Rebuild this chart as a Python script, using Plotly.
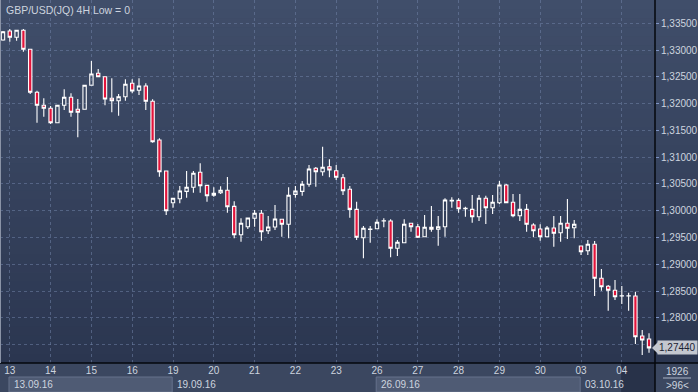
import plotly.graph_objects as go

# ---------------- data (GBP/USD 4H candles, 12.09.16 20:00 -> 04.10.16) ----------------
opens = [1.33188, 1.33356, 1.33239, 1.33369, 1.33015, 1.32212, 1.31969, 1.31913, 1.31644, 1.31969,
         1.32118, 1.31894, 1.31894, 1.32343, 1.32567, 1.32503, 1.32100, 1.32055, 1.32130, 1.32380,
         1.32249, 1.32329, 1.32044, 1.31321, 1.30742, 1.30151, 1.30225, 1.30363, 1.30438, 1.30718,
         1.30475, 1.30289, 1.30337, 1.30382, 1.30083, 1.29553, 1.29703, 1.29859, 1.29953, 1.29628,
         1.29697, 1.29841, 1.29747, 1.30307, 1.30363, 1.30494, 1.30793, 1.30729, 1.30823, 1.30748,
         1.30617, 1.30401, 1.30027, 1.29497, 1.29650, 1.29665, 1.29809, 1.29809, 1.29299, 1.29404,
         1.29766, 1.29703, 1.29516, 1.29691, 1.29654, 1.29703, 1.30182, 1.30195, 1.30039, 1.30027,
         1.29889, 1.30233, 1.30057, 1.30151, 1.30481, 1.30158, 1.29908, 1.30027, 1.29734, 1.29660,
         1.29516, 1.29678, 1.29591, 1.29766, 1.29684, 1.29342, 1.29254, 1.29374, 1.28739, 1.28590,
         1.28515, 1.28409, 1.28409, 1.28409, 1.27662, 1.27606]
highs = [1.33356, 1.33394, 1.33369, 1.33394, 1.33015, 1.32242, 1.32100, 1.31956, 1.31969, 1.32268,
         1.32193, 1.32087, 1.32343, 1.32796, 1.32647, 1.32503, 1.32473, 1.32180, 1.32455, 1.32455,
         1.32473, 1.32380, 1.32081, 1.31353, 1.30742, 1.30233, 1.30462, 1.30742, 1.30742, 1.30886,
         1.30475, 1.30438, 1.30457, 1.30630, 1.30177, 1.29859, 1.29865, 1.30014, 1.30014, 1.29902,
         1.30108, 1.29841, 1.30438, 1.30462, 1.30556, 1.30854, 1.30817, 1.31196, 1.30961, 1.30854,
         1.30686, 1.30462, 1.30169, 1.29716, 1.29716, 1.29841, 1.29859, 1.29841, 1.29454, 1.29841,
         1.29766, 1.29753, 1.29921, 1.30089, 1.29902, 1.30233, 1.30251, 1.30233, 1.30076, 1.30294,
         1.30294, 1.30281, 1.30294, 1.30556, 1.30500, 1.30313, 1.30313, 1.30126, 1.29766, 1.29747,
         1.29716, 1.29902, 1.29902, 1.30220, 1.29828, 1.29342, 1.29454, 1.29436, 1.28913, 1.28614,
         1.28707, 1.28595, 1.28470, 1.28489, 1.27774, 1.27712]
lows = [1.33175, 1.33156, 1.33175, 1.32970, 1.32180, 1.31644, 1.31756, 1.31620, 1.31644, 1.31881,
        1.31756, 1.31372, 1.31894, 1.32343, 1.32492, 1.31969, 1.31838, 1.31775, 1.32055, 1.32193,
        1.32161, 1.31881, 1.31271, 1.30636, 1.29921, 1.30057, 1.30139, 1.30244, 1.30337, 1.30337,
        1.30169, 1.30263, 1.30313, 1.29964, 1.29486, 1.29422, 1.29660, 1.29703, 1.29441, 1.29566,
        1.29641, 1.29516, 1.29486, 1.30244, 1.30281, 1.30449, 1.30449, 1.30655, 1.30625, 1.30574,
        1.30294, 1.29870, 1.29454, 1.29113, 1.29404, 1.29654, 1.29691, 1.29131, 1.29156, 1.29393,
        1.29609, 1.29492, 1.29505, 1.29609, 1.29348, 1.29516, 1.30057, 1.29964, 1.29889, 1.29777,
        1.29809, 1.29753, 1.29940, 1.30126, 1.30139, 1.29878, 1.29809, 1.29609, 1.29505, 1.29441,
        1.29505, 1.29329, 1.29422, 1.29473, 1.29486, 1.29174, 1.29174, 1.28409, 1.28508, 1.28134,
        1.28334, 1.28259, 1.28134, 1.27513, 1.27307, 1.27350]
closes = [1.33343, 1.33239, 1.33369, 1.33015, 1.32212, 1.31969, 1.31913, 1.31644, 1.31969, 1.32118,
          1.31838, 1.31838, 1.32343, 1.32553, 1.32503, 1.32087, 1.32055, 1.32130, 1.32361, 1.32236,
          1.32329, 1.32044, 1.31290, 1.30729, 1.30001, 1.30233, 1.30369, 1.30438, 1.30700, 1.30468,
          1.30281, 1.30326, 1.30382, 1.30076, 1.29553, 1.29766, 1.29865, 1.29953, 1.29609, 1.29697,
          1.29846, 1.29747, 1.30289, 1.30369, 1.30494, 1.30780, 1.30729, 1.30812, 1.30761, 1.30625,
          1.30375, 1.30027, 1.29505, 1.29673, 1.29660, 1.29785, 1.29815, 1.29299, 1.29411, 1.29747,
          1.29703, 1.29505, 1.29691, 1.29654, 1.29703, 1.30201, 1.30195, 1.30039, 1.30046, 1.29889,
          1.30233, 1.30057, 1.30158, 1.30481, 1.30151, 1.29908, 1.30027, 1.29747, 1.29628, 1.29516,
          1.29678, 1.29579, 1.29766, 1.29673, 1.29747, 1.29236, 1.29374, 1.28739, 1.28582, 1.28515,
          1.28396, 1.28412, 1.28412, 1.27649, 1.27587, 1.27440]

day_labels = ['13', '14', '15', '16', '19', '20', '21', '22', '23', '26', '27', '28', '29', '30', '03', '04']
day_start = [1, 7, 13, 19, 25, 31, 37, 43, 49, 55, 61, 67, 73, 79, 85, 91]   # first candle of each day
week_labels = ['13.09.16', '19.09.16', '26.09.16', '03.10.16']
week_start = [1, 25, 55, 85]
title_text = 'GBP/USD(JQ) 4H Low = 0'
bars_total = '1926'
bars_visible = '>96<'
price_ticks = [1.275, 1.280, 1.285, 1.290, 1.295, 1.300, 1.305, 1.310, 1.315, 1.320, 1.325, 1.330, 1.335]
price_tick_text = ['', '1,28000', '1,28500', '1,29000', '1,29500', '1,30000', '1,30500', '1,31000',
                   '1,31500', '1,32000', '1,32500', '1,33000', '1,33500']

# ---------------- geometry ----------------
W, H = 698, 392
ML, MR, MT, MB = 0, 43, 0, 29
PW, PH = W - ML - MR, H - MT - MB
X_RANGE = [-0.441, 95.88]
Y_RANGE = [1.27158, 1.33935]

def px_x(p):
    return p / PW

def px_y(p):
    return (PH - p) / PH

FONT = 'Liberation Sans, Arial, sans-serif'
TXT = '#cdd4df'
RED = '#e3143b'
GRID = 'rgba(112,130,166,0.55)'

x_vals = list(range(len(opens)))

fig = go.Figure(go.Candlestick(
    x=x_vals, open=opens, high=highs, low=lows, close=closes,
    increasing=dict(line=dict(color='#ffffff', width=1.1), fillcolor='rgba(0,0,0,0)'),
    decreasing=dict(line=dict(color='#ffffff', width=1.1), fillcolor=RED),
    whiskerwidth=0, hoverinfo='skip', showlegend=False,
))

shapes = []
# vertical gradient background (plot + right axis panel)
top_c = (64, 78, 106)
bot_c = (43, 54, 80)
n = 40
for k in range(n):
    t = (k + 0.5) / n
    c = tuple(round(top_c[j] + (bot_c[j] - top_c[j]) * t) for j in range(3))
    shapes.append(dict(type='rect', xref='paper', yref='paper', layer='below',
                       x0=0, x1=W / PW, y0=px_y(PH * (k + 1) / n) - 0.001, y1=px_y(PH * k / n),
                       fillcolor='rgb(%d,%d,%d)' % c, line=dict(width=0)))
# bottom panel
shapes.append(dict(type='rect', xref='paper', yref='paper', layer='below',
                   x0=0, x1=W / PW, y0=px_y(H), y1=0,
                   fillcolor='#3b4760', line=dict(width=0)))
# alternating week boxes
for wi in (0, 2):
    shapes.append(dict(type='rect', xref='x', yref='paper', layer='below',
                       x0=week_start[wi] - 0.12, x1=week_start[wi + 1] - 0.12,
                       y0=px_y(H), y1=px_y(PH + 14),
                       fillcolor='#4f5b74', line=dict(color='#66728b', width=1)))
# current day dark block
shapes.append(dict(type='rect', xref='x', yref='paper', layer='below',
                   x0=day_start[-1] - 0.1, x1=X_RANGE[1], y0=px_y(H), y1=0,
                   fillcolor='#283249', line=dict(width=0)))
# frame lines
shapes.append(dict(type='line', xref='paper', yref='paper', x0=0, x1=W / PW, y0=0, y1=0,
                   line=dict(color='#05070c', width=1.5)))
shapes.append(dict(type='line', xref='paper', yref='paper', x0=1, x1=1, y0=px_y(H), y1=1,
                   line=dict(color='#05070c', width=1.5)))
shapes.append(dict(type='line', xref='paper', yref='paper', x0=px_x(0.5), x1=px_x(0.5), y0=0, y1=1,
                   line=dict(color='#8a93a6', width=1)))
# separator between bar counters
shapes.append(dict(type='line', xref='paper', yref='paper', x0=px_x(663), x1=px_x(691),
                   y0=px_y(378), y1=px_y(378), line=dict(color='#aab3c4', width=1)))
# last price tag arrow
last = closes[-1]
shapes.append(dict(type='path', xref='paper', yref='y', layer='above',
                   path='M %f,%f L %f,%f L %f,%f Z' % (px_x(652), last, px_x(658), last + 0.0011,
                                                      px_x(658), last - 0.0011),
                   fillcolor='#c3c7cf', line=dict(width=0)))

annotations = [
    dict(text=title_text, xref='paper', yref='paper', x=px_x(4), y=1, yshift=-2,
         xanchor='left', yanchor='top', showarrow=False,
         font=dict(family=FONT, size=10.5, color=TXT)),
    dict(text=('%.5f' % last).replace('.', ','), xref='paper', yref='y', x=px_x(657), y=last,
         xanchor='left', yanchor='middle', showarrow=False, bgcolor='#c3c7cf', borderpad=1,
         font=dict(family=FONT, size=10, color='#1b2232')),
    dict(text=bars_total, xref='paper', yref='paper', x=px_x(677), y=px_y(371),
         xanchor='center', yanchor='middle', showarrow=False,
         font=dict(family=FONT, size=10, color=TXT)),
    dict(text=bars_visible.replace('<', '&lt;').replace('>', '&gt;'), xref='paper', yref='paper',
         x=px_x(677), y=px_y(385),
         xanchor='center', yanchor='middle', showarrow=False,
         font=dict(family=FONT, size=10, color=TXT)),
]
for lab, s in zip(week_labels, week_start):
    annotations.append(dict(text=lab, xref='x', yref='paper', x=s - 0.12, xshift=3, y=px_y(384.5),
                            xanchor='left', yanchor='middle', showarrow=False,
                            font=dict(family=FONT, size=10, color=TXT)))

fig.update_layout(
    width=W, height=H,
    margin=dict(l=ML, r=MR, t=MT, b=MB, pad=0),
    paper_bgcolor='#3b4760', plot_bgcolor='rgba(0,0,0,0)',
    boxgap=0.3,
    shapes=shapes, annotations=annotations,
    xaxis=dict(range=X_RANGE, rangeslider=dict(visible=False), tickmode='array',
               tickvals=day_start, ticktext=day_labels, showgrid=True, gridcolor=GRID,
               griddash='3px,3px', gridwidth=1, zeroline=False, showline=False, ticks='',
               tickfont=dict(family=FONT, size=10, color=TXT), fixedrange=True),
    yaxis=dict(range=Y_RANGE, side='right', tickmode='array', tickvals=price_ticks,
               ticktext=price_tick_text, showgrid=True, gridcolor=GRID, griddash='3px,3px', gridwidth=1,
               zeroline=False, showline=False, ticks='outside', ticklen=3, tickcolor='#7d93c4',
               tickfont=dict(family=FONT, size=10, color=TXT), fixedrange=True),
)

fig.write_html('out.html', config={'displayModeBar': False},
               post_script="document.body.style.margin='0';document.body.style.padding='0';"
                           "document.body.style.overflow='hidden';")
